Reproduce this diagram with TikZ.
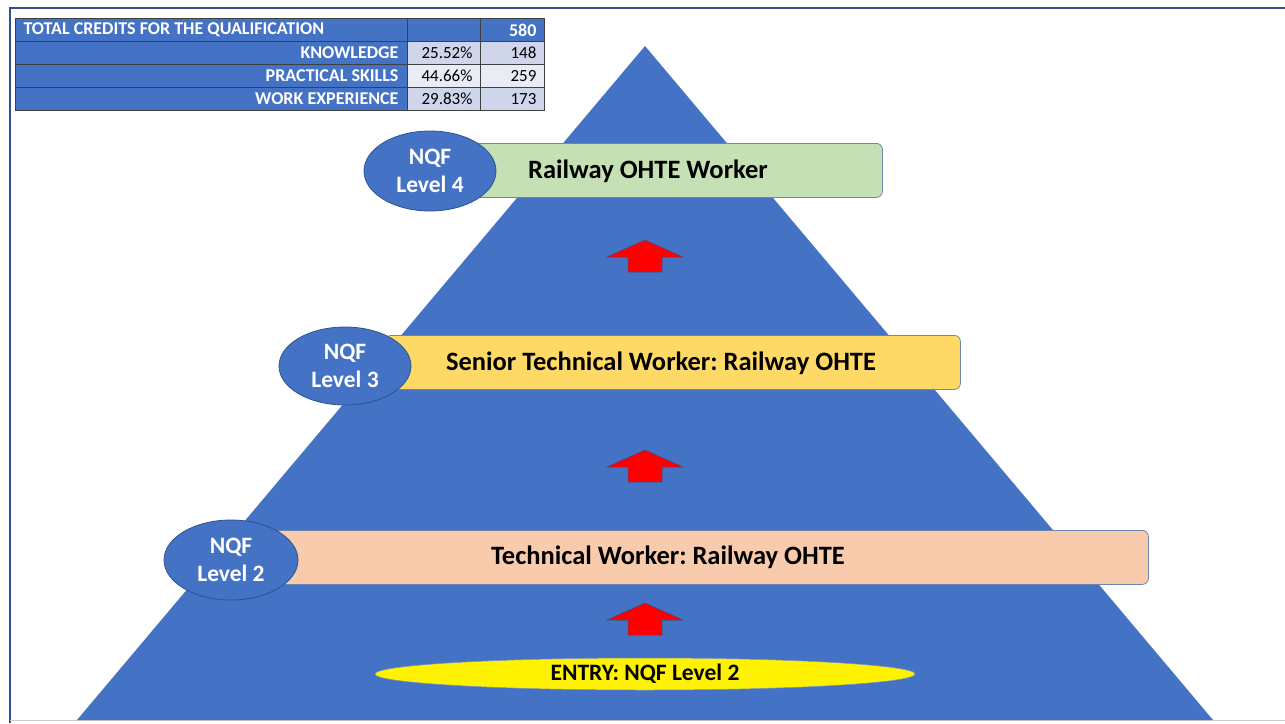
\documentclass[tikz,border=0pt]{standalone}
\usepackage{fontspec}
\setmainfont{Carlito}
\frenchspacing
\usetikzlibrary{shapes.geometric}
\definecolor{pblue}{HTML}{4472C4}
\definecolor{dblue}{HTML}{2F528F}
\definecolor{lgreen}{HTML}{C5E0B4}
\definecolor{lgold}{HTML}{FFD966}
\definecolor{lpeach}{HTML}{F8CBAD}
\definecolor{cellA}{HTML}{CFD5EA}
\definecolor{cellB}{HTML}{E9EBF5}
\definecolor{gridc}{HTML}{404040}
\tikzset{
  levelbox/.style={draw=dblue!70, line width=0.8pt, rounded corners=6pt, inner sep=0pt, anchor=north west},
  nqf/.style={ellipse, draw=dblue, line width=0.8pt, fill=pblue, text=white, inner sep=0pt, minimum width=132pt, minimum height=80pt, align=center, font=\fontsize{23.5}{28}\selectfont\bfseries},
  boxtext/.style={font=\fontsize{26.5}{30}\selectfont\bfseries, text=black},
  upar/.style={fill=red, draw=dblue, line width=0.5pt, line join=miter},
  tcell/.style={draw=gridc, line width=1pt, inner sep=0pt, anchor=north west, minimum height=23pt},
  tlab/.style={font=\fontsize{18}{20}\selectfont\bfseries, text=white},
  tnum/.style={font=\fontsize{17}{19}\selectfont, text=black},
}
\begin{document}
\begin{tikzpicture}[x=1pt,y=-1pt]
\useasboundingbox (0,0) rectangle (1285,723);
% frame
\draw[dblue, line width=2pt] (10,723) -- (10,8) -- (1285,8);
\draw[gray!40, line width=0.8pt] (10,720.5) -- (1285,720.5);
% pyramid
\fill[pblue] (645,46) -- (1213,720) -- (77,720) -- cycle;
% table
\node[tcell, fill=pblue, minimum width=392pt] (t1a) at (15,18) {};
\node[tcell, fill=pblue, minimum width=73pt] (t1b) at (407,18) {};
\node[tcell, fill=pblue, minimum width=64pt] (t1c) at (480,18) {};
\node[tcell, fill=pblue, minimum width=392pt] (t2a) at (15,41) {};
\node[tcell, fill=cellA, minimum width=73pt] (t2b) at (407,41) {};
\node[tcell, fill=cellA, minimum width=64pt] (t2c) at (480,41) {};
\node[tcell, fill=pblue, minimum width=392pt] (t3a) at (15,64) {};
\node[tcell, fill=cellB, minimum width=73pt] (t3b) at (407,64) {};
\node[tcell, fill=cellB, minimum width=64pt] (t3c) at (480,64) {};
\node[tcell, fill=pblue, minimum width=392pt] (t4a) at (15,87) {};
\node[tcell, fill=cellA, minimum width=73pt] (t4b) at (407,87) {};
\node[tcell, fill=cellA, minimum width=64pt] (t4c) at (480,87) {};
\node[tlab, anchor=west] at ([xshift=5pt]t1a.west) {TOTAL CREDITS FOR THE QUALIFICATION};
\node[tlab, anchor=east] at ([xshift=-5pt]t1c.east) {580};
\node[tlab, anchor=east] at ([xshift=-6pt]t2a.east) {KNOWLEDGE};
\node[tlab, anchor=east] at ([xshift=-6pt]t3a.east) {PRACTICAL SKILLS};
\node[tlab, anchor=east] at ([xshift=-6pt]t4a.east) {WORK EXPERIENCE};
\node[tnum, anchor=east] at ([xshift=-5pt]t2b.east) {25.52\%};
\node[tnum, anchor=east] at ([xshift=-5pt]t3b.east) {44.66\%};
\node[tnum, anchor=east] at ([xshift=-5pt]t4b.east) {29.83\%};
\node[tnum, anchor=east] at ([xshift=-5pt]t2c.east) {148};
\node[tnum, anchor=east] at ([xshift=-5pt]t3c.east) {259};
\node[tnum, anchor=east] at ([xshift=-5pt]t4c.east) {173};
% level 4
\node[levelbox, fill=lgreen, minimum width=412pt, minimum height=54pt] (b4) at (470,143) {};
\node[boxtext] (b4t) at (648,171) {Railway OHTE Worker};
\node[nqf] (e4) at (430,171) {NQF\\Level 4};
% level 3
\node[levelbox, fill=lgold, minimum width=575pt, minimum height=54pt] (b3) at (385,335) {};
\node[boxtext] (b3t) at (661,363) {Senior Technical Worker: Railway OHTE};
\node[nqf, minimum height=78pt] (e3) at (345,366) {NQF\\Level 3};
% level 2
\node[levelbox, fill=lpeach, minimum width=873pt, minimum height=54pt] (b2) at (275,530) {};
\node[boxtext] (b2t) at (668,557) {Technical Worker: Railway OHTE};
\node[nqf, minimum width=134pt] (e2) at (231,560) {NQF\\Level 2};
% entry
\node[ellipse, fill=yellow, draw=dblue!60, line width=0.5pt, minimum width=540pt, minimum height=32pt, inner sep=0pt, font=\fontsize{23.5}{26}\selectfont\bfseries] (entry) at (645,674) {ENTRY: NQF Level 2};
% arrows
\foreach \y in {240,450,603}{
  \draw[upar] (645,\y) -- (683,\y+17) -- (662,\y+17) -- (662,\y+32) -- (628,\y+32) -- (628,\y+17) -- (607,\y+17) -- cycle;
}
\end{tikzpicture}
\end{document}
